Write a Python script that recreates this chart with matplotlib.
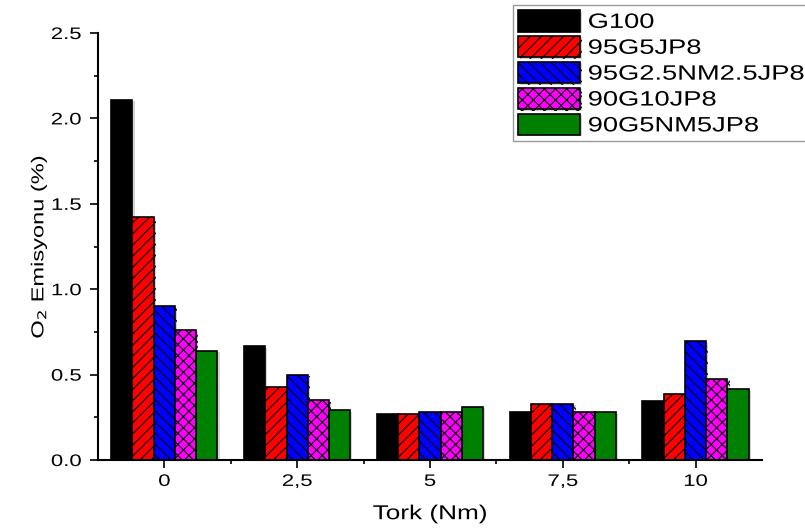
import matplotlib.pyplot as plt
import matplotlib.patheffects as pe
from matplotlib.transforms import Affine2D
import numpy as np

plt.rcParams['font.family'] = ['Liberation Sans', 'DejaVu Sans']
plt.rcParams['hatch.linewidth'] = 0.8

#### Datos ####

tork = ["0", "2,5", "5", "7,5", "10"]
series = ["G100", "95G5JP8", "95G2.5NM2.5JP8", "90G10JP8", "90G5NM5JP8"]
g100 = [2.11, 0.665, 0.27, 0.28, 0.345]
g95jp8 = [1.42, 0.425, 0.27, 0.33, 0.385]
g95nm = [0.90, 0.50, 0.28, 0.33, 0.695]
g90jp8 = [0.76, 0.35, 0.28, 0.28, 0.475]
g90nm = [0.64, 0.29, 0.31, 0.28, 0.415]

colors = ["black", "red", "blue", "magenta", "green"]
hatches = ["", "///", "\\\\\\", "xxx", ""]


#### Texto ensanchado (la fuente del original es mas ancha) ####

class Stretch(pe.AbstractPathEffect):
    def __init__(self, sx=1.32, anchor="center"):
        super().__init__()
        self.sx = sx
        self.anchor = anchor

    def draw_path(self, renderer, gc, tpath, affine, rgbFace=None):
        ext = tpath.get_extents()
        if self.anchor == "left":
            cx = ext.x0
        elif self.anchor == "right":
            cx = ext.x1
        else:
            cx = (ext.x0 + ext.x1) / 2
        t = Affine2D().translate(-cx, 0).scale(self.sx, 1).translate(cx, 0) + affine
        renderer.draw_path(gc, tpath, t, rgbFace)


#### Grafico ####

fig = plt.figure(figsize=(8.05, 5.29), dpi=100)
ax = fig.add_axes([0.1217, 0.1304, 0.8249, 0.8072])

x = np.arange(len(tork))
w = 0.16
values = [g100, g95jp8, g95nm, g90jp8, g90nm]
shadow = [pe.SimplePatchShadow(offset=(1.5, -1.0), shadow_rgbFace="gray", alpha=0.35), pe.Normal()]
for i, (vals, name) in enumerate(zip(values, series)):
    bars = ax.bar(x + (i - 2) * w, vals, w, color=colors[i], hatch=hatches[i],
                  edgecolor="black", linewidth=1.2, label=name)
    for b in bars:
        b.set_path_effects(shadow)

ax.set_xlim(-0.5, 4.5)
ax.set_ylim(0, 2.5)
ax.set_xticks(x)
ax.set_xticklabels(tork)
ax.set_xticks(x[:-1] + 0.5, minor=True)
ax.set_yticks(np.arange(0, 2.51, 0.5))
ax.set_yticklabels(["0.0", "0.5", "1.0", "1.5", "2.0", "2.5"])
ax.set_yticks(np.arange(0.25, 2.5, 0.5), minor=True)
ax.tick_params(which="major", direction="out", length=6, width=1.2, labelsize=12, pad=4)
ax.tick_params(axis="y", which="major", pad=6)
ax.tick_params(which="minor", direction="out", length=3, width=1.2)

for lab in ax.get_xticklabels():
    lab.set_path_effects([Stretch(1.33, "center")])
for lab in ax.get_yticklabels():
    lab.set_path_effects([Stretch(1.33, "right")])

for s in ["top", "right"]:
    ax.spines[s].set_visible(False)
for s in ["left", "bottom"]:
    ax.spines[s].set_linewidth(1.5)

xl = ax.set_xlabel("Tork (Nm)", fontsize=14.5, labelpad=11)
yl = ax.set_ylabel("O$_2$ Emisyonu (%)", fontsize=12.5, labelpad=7)
xl.set_path_effects([Stretch(1.3, "center")])
yl.set_path_effects([Stretch(1.36, "center")])

leg = ax.legend(loc="upper left", bbox_to_anchor=(513 / 805, 1 - 145 / 529, 0.45, 140 / 529),
                bbox_transform=fig.transFigure, mode="expand", fontsize=15, frameon=True,
                fancybox=False, edgecolor="gray", handlelength=2.95,
                handleheight=1.2, labelspacing=0.2, handletextpad=0.4,
                borderpad=0.25, borderaxespad=0)
leg.get_frame().set_linewidth(1.0)
for t in leg.get_texts():
    t.set_path_effects([Stretch(1.31, "left")])

plt.savefig("out.png", dpi=100)
plt.close()
